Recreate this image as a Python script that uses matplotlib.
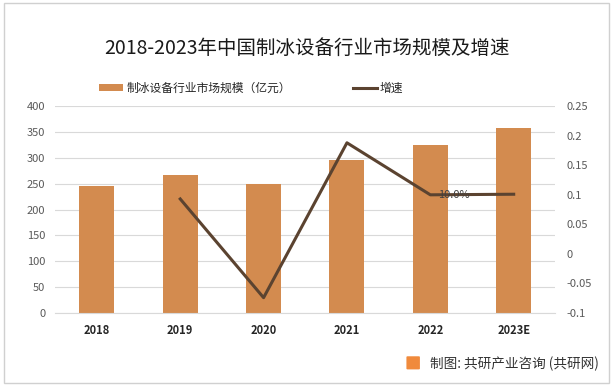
import numpy as np
import matplotlib.pyplot as plt
from matplotlib.patches import Rectangle, FancyBboxPatch

plt.rcParams['font.family'] = ['Noto Sans CJK SC', 'DejaVu Sans']

# --- data ---
years = ['2018', '2019', '2020', '2021', '2022', '2023E']
market_size = [245, 267, 249, 296, 325, 357]
growth = [None, 0.093, -0.074, 0.188, 0.100, 0.101]

BAR_COLOR = '#D38B4F'
LINE_COLOR = '#5B4330'
TICK_COLOR = '#595959'
GRID_COLOR = '#D9D9D9'

fig = plt.figure(figsize=(6.13, 3.86), dpi=100)
fig.patch.set_facecolor('white')
fig.patches.append(Rectangle((0.006, 0.008), 0.988, 0.984, transform=fig.transFigure,
                             fill=False, edgecolor='#D0D0D0', linewidth=1))

ax = fig.add_axes([0.090, 0.189, 0.816, 0.536])
x = np.arange(len(years))
ax.bar(x, market_size, width=0.42, color=BAR_COLOR, zorder=2,
       label='制冰设备行业市场规模（亿元）')
ax.set_xlim(-0.5, len(years) - 0.5)
ax.set_ylim(0, 400)
ax.set_yticks(range(0, 401, 50))
ax.set_xticks(x)
ax.set_xticklabels(years)
ax.grid(axis='y', color=GRID_COLOR, linewidth=0.8, zorder=0)
for s in ax.spines.values():
    s.set_visible(False)
ax.spines['bottom'].set_visible(True)
ax.spines['bottom'].set_color(GRID_COLOR)
ax.tick_params(length=0, labelsize=8, colors=TICK_COLOR, pad=8)
ax.tick_params(axis='y', pad=7)
for lbl in ax.get_xticklabels():
    lbl.set_color('#262626')
    lbl.set_fontweight('bold')

ax2 = ax.twinx()
gx = [i for i, g in enumerate(growth) if g is not None]
gy = [g for g in growth if g is not None]
ax2.plot(gx, gy, color=LINE_COLOR, linewidth=2.2, zorder=3, label='增速')
ax2.set_ylim(-0.1, 0.25)
ax2.set_yticks([-0.1, -0.05, 0, 0.05, 0.1, 0.15, 0.2, 0.25])
ax2.set_yticklabels(['-0.1', '-0.05', '0', '0.05', '0.1', '0.15', '0.2', '0.25'])
for s in ax2.spines.values():
    s.set_visible(False)
ax2.tick_params(length=0, labelsize=8, colors=TICK_COLOR, pad=8)
ax2.annotate(f'{growth[4]*100:.1f}%', (4, growth[4]), xytext=(4.28, growth[4]),
             ha='center', va='center', fontsize=8, color='#404040')

fig.text(0.5, 0.875, '2018-2023年中国制冰设备行业市场规模及增速', ha='center', va='center',
         fontsize=14, color='#1a1a1a')

# legend
h1, l1 = ax.get_legend_handles_labels()
h2, l2 = ax2.get_legend_handles_labels()
fig.legend(h1 + h2, l1 + l2, loc='center', bbox_to_anchor=(0.41, 0.772), ncol=2,
           frameon=False, fontsize=8.5, handlelength=2.0, handleheight=0.55,
           columnspacing=5.3, handletextpad=0.25, labelcolor='#262626')

# source
fig.patches.append(FancyBboxPatch((0.665, 0.045), 0.018, 0.03, boxstyle='round,pad=0.002',
                                  transform=fig.transFigure, facecolor='#F08A3C',
                                  edgecolor='none'))
fig.text(0.701, 0.058, '制图: 共研产业咨询 (共研网)', ha='left', va='center',
         fontsize=9.8, color='#333333')

fig.savefig('out.png', dpi=100)
